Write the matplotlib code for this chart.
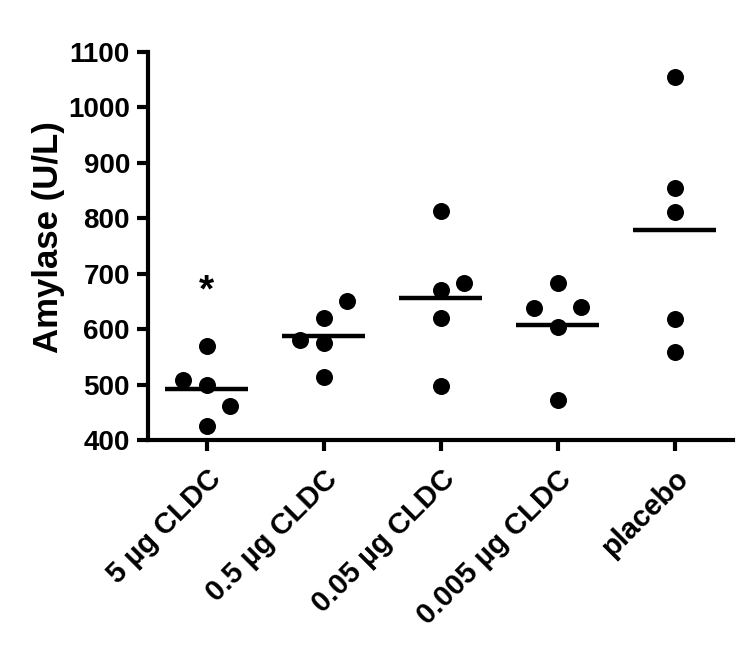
import matplotlib
matplotlib.use("Agg")
import matplotlib.pyplot as plt
import numpy as np

plt.rcParams['font.family'] = ['Liberation Sans', 'DejaVu Sans']
plt.rcParams['font.weight'] = 'bold'

categories = ["5 µg CLDC", "0.5 µg CLDC", "0.05 µg CLDC", "0.005 µg CLDC", "placebo"]
g1 = [570, 508, 499, 461, 426]
g2 = [651, 621, 580, 575, 514]
g3 = [813, 683, 671, 621, 497]
g4 = [683, 639, 640, 604, 472]
g5 = [1055, 855, 812, 618, 558]
groups = [g1, g2, g3, g4, g5]
# dodge slots used to avoid overlapping dots
slots = [[0, -1, 0, 1, 0],
         [1, 0, -1, 0, 0],
         [0, 1, 0, 0, 0],
         [0, -1, 1, 0, 0],
         [0, 0, 0, 0, 0]]
sig_labels = ["*", "", "", "", ""]
sig_value = 687
yticks = [400, 500, 600, 700, 800, 900, 1000, 1100]

fig = plt.figure(figsize=(7.5, 6.48), dpi=100)
ax = fig.add_axes([148 / 750, 1 - 440 / 648, 585 / 750, 388 / 648])

dodge = 0.2
half = 0.355
for i, (vals, sl) in enumerate(zip(groups, slots)):
    xs = [i + s * dodge for s in sl]
    ax.scatter(xs, vals, s=150, color='black', zorder=3, linewidths=0)
    m = np.mean(vals)
    ax.plot([i - half, i + half], [m, m], color='black', lw=3.2, solid_capstyle='butt', zorder=4)
    if sig_labels[i]:
        ax.annotate(sig_labels[i], (i, sig_value), xytext=(0, -15), textcoords='offset points',
                    ha='center', va='baseline', fontsize=28, fontweight='bold')

ax.set_xlim(-0.5, 4.5)
ax.set_ylim(400, 1100)
ax.set_yticks(yticks)
ax.set_xticks(range(len(categories)))
ax.set_xticklabels(categories, rotation=45, ha='right', rotation_mode='anchor', fontsize=21, fontweight='bold')
ax.set_yticklabels([str(v) for v in yticks], fontsize=20, fontweight='bold')
ax.set_ylabel("Amylase (U/L)", fontsize=25, fontweight='bold')
ax.yaxis.set_label_coords(-0.142, 0.523)

for s in ['top', 'right']:
    ax.spines[s].set_visible(False)
for s in ['left', 'bottom']:
    ax.spines[s].set_linewidth(3)
    ax.spines[s].set_capstyle('projecting')
ax.tick_params(axis='both', width=3, length=8, color='black')
ax.tick_params(axis='y', pad=5)
ax.tick_params(axis='x', pad=10)

fig.savefig("out.png", dpi=100)
